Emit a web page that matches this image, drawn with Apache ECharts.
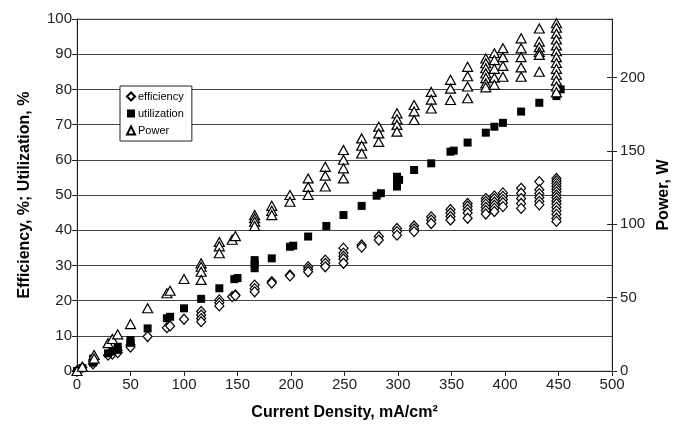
<!DOCTYPE html>
<html><head><meta charset="utf-8">
<script src="https://cdn.jsdelivr.net/npm/echarts@6/dist/echarts.min.js"></script>
<style>html,body{margin:0;padding:0;background:#fff}#c{width:680px;height:433px}</style>
</head><body><div id="c"></div>
<script>
// Each entry: [current density, [values...]]
const efficiencyClusters = [
  [0,[0]],[5,[1]],[15,[2.0,2.8]],[29,[4.5]],[33,[4.8]],[38,[5.8,5.2]],[50,[7.4,6.8]],
  [66,[9.8]],[84,[12.3]],[87,[12.8]],[100,[14.7]],[116,[16.9,15.9,14.9,14.0]],
  [133,[20.2,19.4,18.5]],[145,[21.1]],[148,[21.6,21.4]],[166,[24.4,23.4,22.5]],
  [182,[25.4,25.0]],[199,[27.3,27.0]],[216,[29.6,28.9,28.2]],[232,[31.5,30.6,29.6]],
  [249,[34.9,33.5,32.6,31.8,30.6]],[266,[35.8,35.2]],[282,[38.2,37.2]],
  [299,[40.5,39.6,38.6]],[315,[41.2,40.4,39.6]],[331,[43.8,42.9,41.9]],
  [349,[45.9,44.9,43.9,42.9]],[365,[47.6,46.8,45.9,44.9,43.4]],
  [382,[49.0,48.2,47.4,46.5,45.6,44.6]],[390,[49.7,48.9,48.0,47.1,46.2,45.3]],
  [398,[50.6,49.6,48.7,47.8,46.7]],[415,[51.9,50.5,49.0,47.6,46.2]],
  [432,[53.8,51.5,50.4,49.3,48.2,47.2]],
  [448,[54.7,54.0,53.3,52.5,51.7,50.9,50.0,49.2,48.3,47.5,46.5,45.5,44.5,43.4,42.5]]
];
const utilizationClusters = [
  [0,[0]],[5,[0.8]],[15,[2.4,3.5]],[29,[5.0]],[33,[5.5]],[38,[6.9,6.0]],[50,[8.8,8.0]],
  [66,[12.1]],[84,[15.0]],[87,[15.4]],[100,[17.8]],[116,[20.5]],[133,[23.5]],
  [147,[26.1]],[150,[26.4]],[166,[31.5,30.3,29.2]],[182,[32.0]],[199,[35.3]],[202,[35.6]],
  [216,[38.2]],[233,[41.2]],[249,[44.3]],[266,[46.9]],[280,[49.8]],[284,[50.5]],
  [299,[55.2,53.8,52.4]],[301,[54.3]],[315,[57.1]],[331,[59.0]],[349,[62.3]],[352,[62.6]],
  [365,[64.9]],[382,[67.7]],[390,[69.4]],[398,[70.5]],[415,[73.7]],[432,[76.2]],
  [448,[78.1]],[452,[80.0]]
];
const powerClusters = [
  [0,[0]],[5,[2.9]],[16,[10.9,8.5]],[29,[19]],[33,[21.8]],[38,[25]],[50,[32]],
  [66,[42.8]],[84,[53]],[87,[54.7]],[100,[62.7]],[116,[73.4,71.1,67.7,62.1]],
  [133,[88,85,80.3]],[145,[89.5]],[148,[92]],[166,[106.3,104.2,101.8,98.9]],
  [182,[112.6,109.2,106.3]],[199,[120,115.4]],[216,[131.3,125.5,120]],
  [232,[139.2,133.2,125.8]],[249,[150.7,144,138.2,131.3]],[266,[158.6,153.6,148.3]],
  [282,[166.6,162,156.2]],[299,[175.7,171.6,167.8,163.2]],[315,[181.4,177,171.1]],
  [331,[190.3,185,179]],[349,[198.5,192.5,184.8]],[365,[207.4,201,194,186]],
  [382,[213.1,209.8,206.4,203,199.7,196.1,193.4]],[390,[216.7,212,206,200,195.1]],
  [398,[220.1,214,208,200.6]],[415,[226.8,220,214,207,200.6]],
  [432,[233.5,224.6,220.8,217.5,215.5,204]],
  [448,[237.1,234,230,226,222,218,214,210,206,202,198,194,190]]
];
const seriesNames = ['efficiency','utilization','Power'];
const xTitle = 'Current Density, mA/cm²';
const yLeftTitle = 'Efficiency, %; Utilization, %';
const yRightTitle = 'Power, W';

function flatten(cl){ const out=[]; cl.forEach(([x,vs])=>vs.forEach(v=>out.push([x,v]))); return out; }

const chart = echarts.init(document.getElementById('c'), null, {renderer:'canvas'});
const font = '"Liberation Sans", Arial, sans-serif';
const lbl = {color:'#222', fontSize:15, fontFamily:font};
const nameStyle = {color:'#000', fontSize:16, fontWeight:'bold', fontFamily:font};
chart.setOption({
  animation:false,
  backgroundColor:'#fff',
  grid:{left:77, right:65, top:19, bottom:62, show:true, borderColor:'#aaa', borderWidth:1},
  legend:{
    orient:'vertical', left:120, top:86, itemWidth:8, itemHeight:8, itemGap:6,
    padding:[5,8,5,6], backgroundColor:'#fff', borderColor:'#222', borderWidth:1,
    textStyle:{fontSize:11, color:'#000', fontFamily:font, padding:[0,0,0,-2]},
    data:seriesNames
  },
  xAxis:{
    type:'value', min:0, max:500, interval:50,
    name:xTitle, nameLocation:'middle', nameGap:34, nameTextStyle:nameStyle,
    axisLine:{lineStyle:{color:'#222'}}, axisTick:{show:true, length:5, lineStyle:{color:'#222'}},
    axisLabel:Object.assign({margin:6}, lbl), splitLine:{show:false}
  },
  yAxis:[{
    type:'value', min:0, max:100, interval:10,
    name:yLeftTitle, nameLocation:'middle', nameGap:44, nameRotate:90, nameTextStyle:nameStyle,
    axisLine:{show:true, lineStyle:{color:'#222'}}, axisTick:{show:true, length:5, lineStyle:{color:'#222'}},
    axisLabel:Object.assign({margin:5}, lbl),
    splitLine:{show:true, lineStyle:{color:'#444', width:1.2}}
  },{
    type:'value', min:0, max:240, interval:50, position:'right',
    name:yRightTitle, nameLocation:'middle', nameGap:38, nameRotate:90, nameTextStyle:nameStyle,
    axisLine:{show:true, lineStyle:{color:'#222'}}, axisTick:{show:true, length:5, lineStyle:{color:'#222'}},
    axisLabel:Object.assign({margin:8, showMaxLabel:false}, lbl), splitLine:{show:false}
  },{
    type:'value', min:0, max:240, interval:50, position:'right',
    axisLine:{show:false}, axisTick:{show:true, inside:true, length:5, lineStyle:{color:'#222'}},
    axisLabel:{show:false}, splitLine:{show:false}
  }],
  series:[{
    name:seriesNames[0], type:'scatter', yAxisIndex:0, symbol:'diamond', symbolSize:[9,10],
    itemStyle:{color:'#fff', borderColor:'#000', borderWidth:1.2, opacity:1},
    data:flatten(efficiencyClusters)
  },{
    name:seriesNames[1], type:'scatter', yAxisIndex:0, symbol:'rect', symbolSize:8,
    itemStyle:{color:'#000', borderColor:'#000', borderWidth:0, opacity:1},
    data:flatten(utilizationClusters)
  },{
    name:seriesNames[2], type:'scatter', yAxisIndex:1, symbol:'triangle', symbolSize:[10,9],
    itemStyle:{color:'#fff', borderColor:'#000', borderWidth:1.2, opacity:1},
    data:flatten(powerClusters)
  }]
});
</script></body></html>
